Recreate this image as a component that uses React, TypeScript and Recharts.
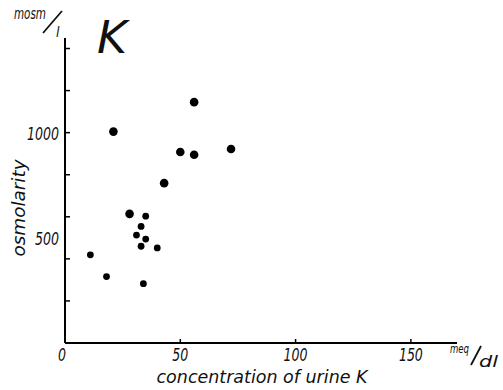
import React from 'react';
import { ScatterChart, Scatter, XAxis, YAxis } from 'recharts';

// urine K (meq/dl) vs osmolarity (mosm/l)
const bigK = [56, 21, 50, 56, 72, 43, 28];
const bigOsm = [1145, 1005, 908, 895, 922, 760, 614];
const smallK = [35, 33, 31, 35, 33, 40, 11, 18, 34];
const smallOsm = [603, 554, 513, 494, 460, 452, 419, 316, 282];

const xTicks = [0, 50, 100, 150];
const yTicks = [200, 400, 500, 600, 800, 1000, 1200, 1400];
const yLabels = [500, 1000];

const bigData = bigK.map((k, i) => ({ k, osm: bigOsm[i] }));
const smallData = smallK.map((k, i) => ({ k, osm: smallOsm[i] }));

const FONT = '"DejaVu Sans Condensed", "Liberation Sans", sans-serif';

const textStyle = { fontFamily: FONT, fontStyle: 'italic', fill: '#111' } as const;

const YTick = (props: any) => {
  const { x, y, payload } = props;
  const v = payload.value;
  const s = String(v);
  return (
    <g>
      {v % 200 === 0 && <line x1={x} x2={x + 5} y1={y} y2={y} stroke="#000" strokeWidth={1.5} />}
      {yLabels.includes(v) && (
        <text
          x={x - 6}
          y={y + 7}
          textAnchor="end"
          fontSize={18}
          textLength={s.length * 8}
          lengthAdjust="spacingAndGlyphs"
          style={textStyle}
        >
          {s}
        </text>
      )}
    </g>
  );
};

const XTick = (props: any) => {
  const { x, y, payload } = props;
  const v = payload.value;
  const s = String(v);
  return (
    <g>
      {v > 0 && <line x1={x} x2={x} y1={y} y2={y - 4} stroke="#000" strokeWidth={1.5} />}
      <text
        x={v === 0 ? x - 3 : x}
        y={y + 18}
        textAnchor="middle"
        fontSize={18}
        textLength={s.length * 8}
        lengthAdjust="spacingAndGlyphs"
        style={textStyle}
      >
        {s}
      </text>
    </g>
  );
};

const BigDot = (props: any) => <circle cx={props.cx} cy={props.cy} r={4.3} fill="#000" />;
const SmallDot = (props: any) => <circle cx={props.cx} cy={props.cy} r={3.4} fill="#000" />;

export default function App() {
  return (
    <div style={{ position: 'absolute', left: 0, top: 0, width: 503, height: 390, background: '#fff' }}>
      <ScatterChart width={503} height={390} margin={{ top: 38, right: 46, left: 0, bottom: 0 }}>
        <XAxis
          type="number"
          dataKey="k"
          domain={[0, 170]}
          ticks={xTicks}
          interval={0}
          height={47}
          tickSize={0}
          tickMargin={0}
          tickLine={false}
          axisLine={{ stroke: '#000', strokeWidth: 2 }}
          tick={<XTick />}
        />
        <YAxis
          type="number"
          dataKey="osm"
          domain={[0, 1450]}
          ticks={yTicks}
          interval={0}
          width={65}
          tickSize={0}
          tickMargin={0}
          tickLine={false}
          axisLine={{ stroke: '#000', strokeWidth: 2 }}
          tick={<YTick />}
        />
        <Scatter data={bigData} shape={<BigDot />} isAnimationActive={false} />
        <Scatter data={smallData} shape={<SmallDot />} isAnimationActive={false} />
      </ScatterChart>
      <svg
        width={503}
        height={390}
        style={{ position: 'absolute', left: 0, top: 0, pointerEvents: 'none' }}
      >
        <text x={14} y={19} fontSize={15} textLength={32} lengthAdjust="spacingAndGlyphs" style={textStyle}>
          mosm
        </text>
        <line x1={43} y1={33} x2={62} y2={11} stroke="#111" strokeWidth={1.8} />
        <text x={56} y={37} fontSize={14} style={textStyle}>l</text>
        <text x={97} y={53} fontSize={44} textLength={30} lengthAdjust="spacingAndGlyphs" style={textStyle}>
          K
        </text>
        <text
          transform="translate(25, 208) rotate(-90)"
          textAnchor="middle"
          fontSize={18}
          textLength={97}
          lengthAdjust="spacingAndGlyphs"
          style={textStyle}
        >
          osmolarity
        </text>
        <text
          x={262}
          y={383}
          textAnchor="middle"
          fontSize={18}
          textLength={211}
          lengthAdjust="spacingAndGlyphs"
          style={textStyle}
        >
          concentration of urine K
        </text>
        <text x={450} y={353} fontSize={13} textLength={19} lengthAdjust="spacingAndGlyphs" style={textStyle}>
          meq
        </text>
        <line x1={471} y1={365} x2={481} y2={346} stroke="#111" strokeWidth={1.8} />
        <text x={479} y={367} fontSize={16} textLength={19} lengthAdjust="spacingAndGlyphs" style={textStyle}>
          dl
        </text>
      </svg>
    </div>
  );
}
